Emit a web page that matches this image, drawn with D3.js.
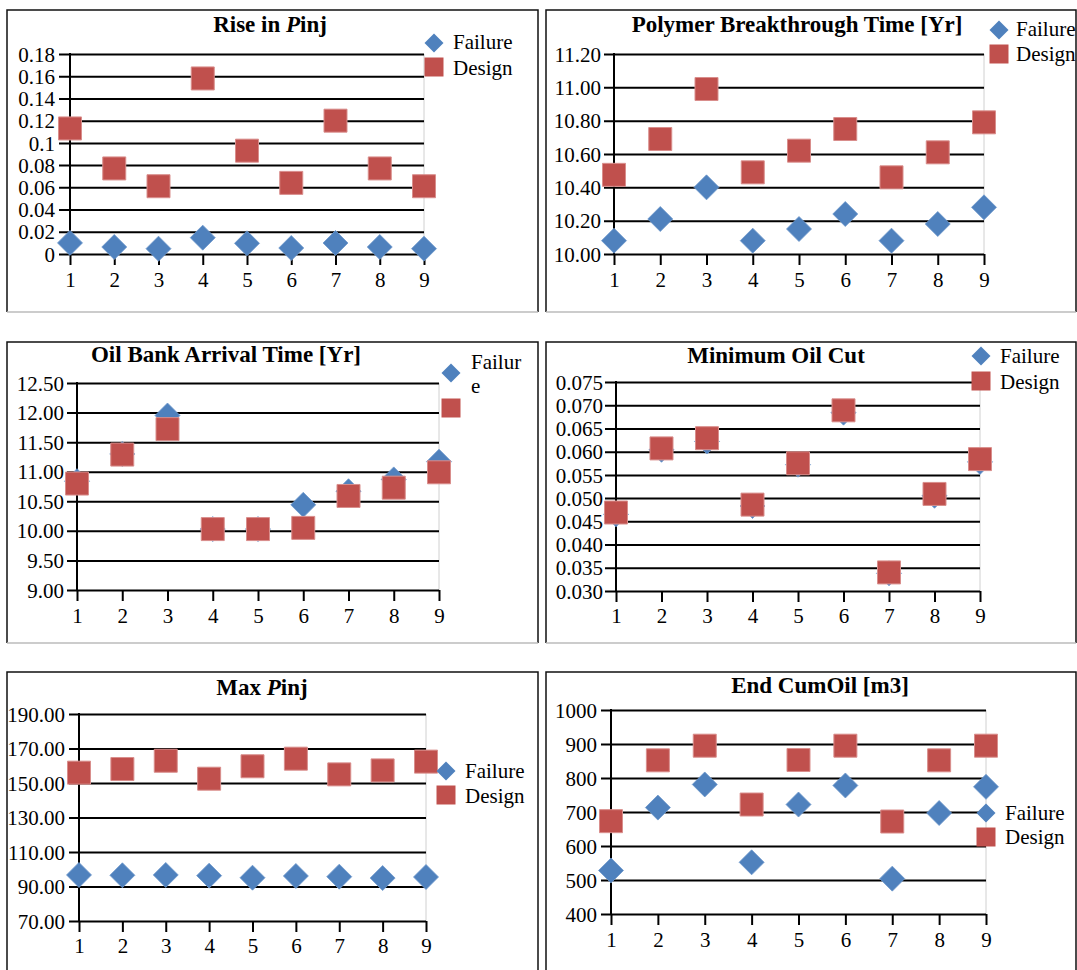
<!DOCTYPE html>
<html>
<head>
<meta charset="utf-8">
<script src="https://cdn.jsdelivr.net/npm/d3@7"></script>
<style>
  body { margin: 0; background: #fff; }
  svg { display: block; }
  text { font-family: "Liberation Serif", "Times New Roman", serif; fill: #000; }
</style>
</head>
<body>
<svg id="chart" width="1077" height="970"></svg>
<script>
// run numbers on the x axis
var runs = [1, 2, 3, 4, 5, 6, 7, 8, 9];

// Rise in Pinj
var riseFailure = [0.0100, 0.0063, 0.0048, 0.0147, 0.0096, 0.0054, 0.0099, 0.0063, 0.0048];
var riseDesign  = [0.113, 0.077, 0.061, 0.158, 0.093, 0.064, 0.120, 0.077, 0.061];
var riseTicks   = ["0", "0.02", "0.04", "0.06", "0.08", "0.1", "0.12", "0.14", "0.16", "0.18"];

// Polymer breakthrough time
var breakFailure = [10.08, 10.21, 10.40, 10.08, 10.15, 10.24, 10.08, 10.18, 10.28];
var breakDesign  = [10.475, 10.69, 10.99, 10.49, 10.62, 10.75, 10.46, 10.61, 10.79];
var breakTicks   = ["10.00", "10.20", "10.40", "10.60", "10.80", "11.00", "11.20"];

// Oil bank arrival time
var oilBankFailure = [10.84, 11.30, 11.95, 10.03, 10.03, 10.44, 10.67, 10.87, 11.17];
var oilBankDesign  = [10.80, 11.29, 11.72, 10.03, 10.03, 10.05, 10.59, 10.73, 10.99];
var oilBankTicks   = ["9.00", "9.50", "10.00", "10.50", "11.00", "11.50", "12.00", "12.50"];

// Minimum oil cut
var minCutFailure = [0.0465, 0.0604, 0.0622, 0.0483, 0.0572, 0.0684, 0.0338, 0.0505, 0.0578];
var minCutDesign  = [0.0469, 0.0607, 0.0629, 0.0486, 0.0575, 0.0689, 0.0340, 0.0509, 0.0584];
var minCutTicks   = ["0.030", "0.035", "0.040", "0.045", "0.050", "0.055", "0.060", "0.065", "0.070", "0.075"];

// Max Pinj
var maxPinjFailure = [96.7, 96.5, 96.7, 96.3, 95.1, 96.1, 95.7, 94.9, 95.5];
var maxPinjDesign  = [156.0, 158.1, 162.9, 152.5, 159.7, 164.1, 155.0, 157.3, 162.4];
var maxPinjTicks   = ["70.00", "90.00", "110.00", "130.00", "150.00", "170.00", "190.00"];

// End cumulative oil
var cumOilFailure = [528, 713, 781, 552, 722, 778, 504, 697, 774];
var cumOilDesign  = [673, 852, 895, 722, 853, 895, 672, 852, 895];
var cumOilTicks   = ["400", "500", "600", "700", "800", "900", "1000"];

var BLUE = "#4F81BD", RED = "#C0504D";
var FONT = '"Liberation Serif", "Times New Roman", serif';

var panels = [
  { title: [["Rise in ", 0], ["P", 1], ["inj", 0]], failure: riseFailure, design: riseDesign, ticks: riseTicks,
    box: [7, 10, 538, 312], x0: 70, x1: 424, yTop: 54, yBot: 254, gridLeft: 59, pad: 4,
    titleX: 270, titleY: 32, xLab: 287,
    leg: { mx: 434, my1: 43, my2: 67, tx: 453, labels: [["Failure", 49]], design: [["Design", 75]] } },
  { title: [["Polymer Breakthrough Time [Yr]", 0]], failure: breakFailure, design: breakDesign, ticks: breakTicks,
    box: [546, 10, 1076, 312], x0: 614, x1: 984, yTop: 54, yBot: 254, gridLeft: 604, pad: 3,
    titleX: 797, titleY: 32, xLab: 287,
    leg: { mx: 999, my1: 30, my2: 54, tx: 1016, labels: [["Failure", 36]], design: [["Design", 61]] } },
  { title: [["Oil Bank Arrival Time [Yr]", 0]], failure: oilBankFailure, design: oilBankDesign, ticks: oilBankTicks,
    box: [7, 342, 538, 643], x0: 77, x1: 439, yTop: 383, yBot: 590, gridLeft: 67, pad: 3,
    titleX: 226, titleY: 362, xLab: 623,
    leg: { mx: 451, my1: 373, my2: 408, tx: 471, labels: [["Failur", 369], ["e", 393]], design: [] } },
  { title: [["Minimum Oil Cut", 0]], failure: minCutFailure, design: minCutDesign, ticks: minCutTicks,
    box: [546, 342, 1076, 643], x0: 616, x1: 980, yTop: 382, yBot: 591, gridLeft: 605, pad: 2,
    titleX: 776, titleY: 363, xLab: 623,
    leg: { mx: 981, my1: 356, my2: 381, tx: 1000, labels: [["Failure", 363]], design: [["Design", 389]] } },
  { title: [["Max ", 0], ["P", 1], ["inj", 0]], failure: maxPinjFailure, design: maxPinjDesign, ticks: maxPinjTicks,
    box: [7, 672, 538, 990], x0: 79, x1: 426, yTop: 714, yBot: 921, gridLeft: 69, pad: 4,
    titleX: 262, titleY: 695, xLab: 953,
    leg: { mx: 446, my1: 771, my2: 795, tx: 465, labels: [["Failure", 778]], design: [["Design", 803]] } },
  { title: [["End CumOil [m3]", 0]], failure: cumOilFailure, design: cumOilDesign, ticks: cumOilTicks,
    box: [546, 672, 1076, 990], x0: 611, x1: 986, yTop: 710, yBot: 914, gridLeft: 601, pad: 4,
    titleX: 820, titleY: 693, xLab: 947,
    leg: { mx: 986, my1: 813, my2: 837, tx: 1005, labels: [["Failure", 820]], design: [["Design", 844]] } }
];

var svg = d3.select("#chart");

function diamond(h) { return "M0," + (-h) + "L" + h + ",0L0," + h + "L" + (-h) + ",0Z"; }
function square(h) { return "M" + (-h) + "," + (-h) + "H" + h + "V" + h + "H" + (-h) + "Z"; }

panels.forEach(function(p) {
  var g = svg.append("g");
  var b = p.box;

  // panel frame: black on three sides, grey at the bottom
  g.append("path")
    .attr("d", "M" + b[0] + "," + b[3] + "V" + b[1] + "H" + b[2] + "V" + b[3])
    .attr("fill", "none").attr("stroke", "#111").attr("stroke-width", 1.5);
  g.append("line")
    .attr("x1", b[0]).attr("x2", b[2]).attr("y1", b[3]).attr("y2", b[3])
    .attr("stroke", "#bbb").attr("stroke-width", 1.5);

  var vals = p.ticks.map(Number);
  var x = d3.scaleLinear().domain([runs[0], runs[runs.length - 1]]).range([p.x0, p.x1]);
  var y = d3.scaleLinear().domain([vals[0], vals[vals.length - 1]]).range([p.yBot, p.yTop]);

  // plot-area right edge
  g.append("line")
    .attr("x1", p.x1).attr("x2", p.x1).attr("y1", p.yTop).attr("y2", p.yBot)
    .attr("stroke", "#d0d0d0").attr("stroke-width", 1);

  // horizontal gridlines + y labels
  var yAxis = d3.axisLeft(y)
    .tickValues(vals)
    .tickFormat(function(d, i) { return p.ticks[i]; })
    .tickSize(-(p.x1 - p.gridLeft))
    .tickPadding(p.pad);
  var ya = g.append("g")
    .attr("transform", "translate(" + p.gridLeft + ",0)")
    .call(yAxis);
  ya.attr("font-family", null).attr("font-size", null);
  ya.select(".domain").remove();
  ya.selectAll(".tick line").attr("stroke", "#000").attr("stroke-width", 2);
  ya.selectAll(".tick text")
    .style("font-family", FONT)
    .style("font-size", "21px")
    .attr("dy", "0.34em");

  // x axis ticks + labels
  var tickLen = 11;
  var xAxis = d3.axisBottom(x)
    .tickValues(runs)
    .tickFormat(d3.format("d"))
    .tickSize(tickLen)
    .tickPadding(p.xLab - p.yBot - tickLen - 15);
  var xa = g.append("g")
    .attr("transform", "translate(0," + p.yBot + ")")
    .call(xAxis);
  xa.attr("font-family", null).attr("font-size", null);
  xa.select(".domain").remove();
  xa.selectAll(".tick line").attr("stroke", "#000").attr("stroke-width", 2);
  xa.selectAll(".tick text")
    .style("font-family", FONT)
    .style("font-size", "21px");

  // vertical y axis line
  g.append("line")
    .attr("x1", x(runs[0])).attr("x2", x(runs[0]))
    .attr("y1", p.yTop - 1).attr("y2", p.yBot)
    .attr("stroke", "#000").attr("stroke-width", 2);

  // title
  var t = g.append("text")
    .attr("x", p.titleX).attr("y", p.titleY)
    .attr("text-anchor", "middle")
    .style("font-family", FONT)
    .style("font-size", "23px").style("font-weight", "bold");
  p.title.forEach(function(part) {
    t.append("tspan").text(part[0]).style("font-style", part[1] ? "italic" : "normal");
  });

  // markers: failure under design
  g.selectAll(".fail").data(p.failure).enter().append("path")
    .attr("class", "fail")
    .attr("d", diamond(12.5))
    .attr("transform", function(d, i) { return "translate(" + x(runs[i]) + "," + y(d) + ")"; })
    .attr("fill", BLUE).attr("stroke", "#6f98cc").attr("stroke-width", 0.8);
  g.selectAll(".des").data(p.design).enter().append("path")
    .attr("class", "des")
    .attr("d", square(11.5))
    .attr("transform", function(d, i) { return "translate(" + x(runs[i]) + "," + y(d) + ")"; })
    .attr("fill", RED).attr("stroke", "#d98e8c").attr("stroke-width", 1);

  // legend
  var L = p.leg;
  g.append("path").attr("d", diamond(9.5))
    .attr("transform", "translate(" + L.mx + "," + L.my1 + ")").attr("fill", BLUE);
  g.append("path").attr("d", square(9.5))
    .attr("transform", "translate(" + L.mx + "," + L.my2 + ")").attr("fill", RED);
  L.labels.concat(L.design).forEach(function(l) {
    g.append("text").attr("x", L.tx).attr("y", l[1])
      .style("font-family", FONT).style("font-size", "21px").text(l[0]);
  });
});
</script>
</body>
</html>
